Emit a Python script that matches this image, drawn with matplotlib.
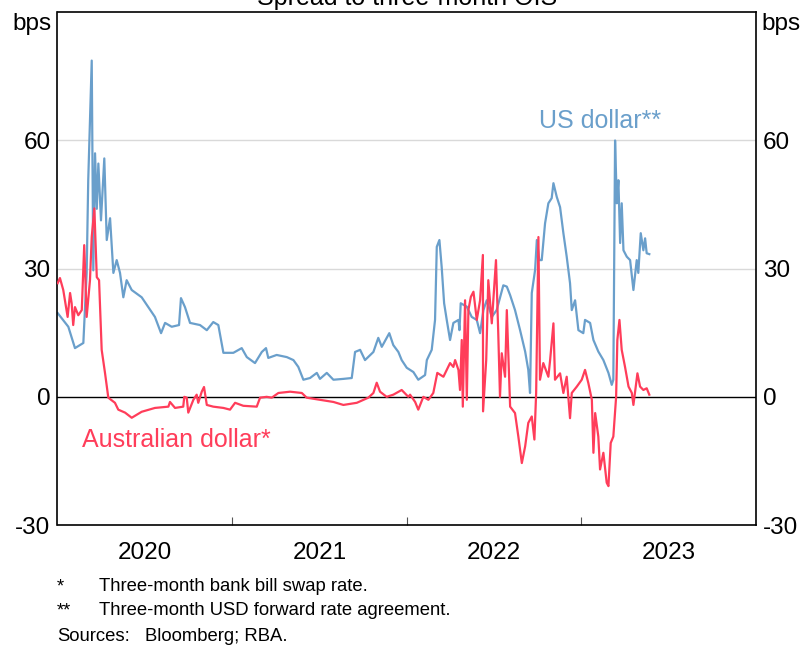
import numpy as np
import matplotlib
matplotlib.use("Agg")
from matplotlib import pyplot as plt

plt.rcParams['font.family'] = ['Liberation Sans', 'DejaVu Sans']

# time in decimal years, values in bps
us_t = [2020.001, 2020.062, 2020.100, 2020.148, 2020.167, 2020.176, 2020.196, 2020.205,
        2020.215, 2020.225, 2020.234, 2020.249, 2020.268, 2020.282, 2020.301, 2020.320,
        2020.339, 2020.358, 2020.377, 2020.396, 2020.425, 2020.482, 2020.520, 2020.558,
        2020.593, 2020.616, 2020.654, 2020.696, 2020.707, 2020.730, 2020.759, 2020.816,
        2020.855, 2020.892, 2020.921, 2020.950, 2021.007, 2021.055, 2021.084, 2021.131,
        2021.170, 2021.194, 2021.207, 2021.255, 2021.313, 2021.351, 2021.379, 2021.408,
        2021.446, 2021.485, 2021.503, 2021.542, 2021.580, 2021.637, 2021.685, 2021.704,
        2021.733, 2021.761, 2021.809, 2021.837, 2021.857, 2021.900, 2021.923, 2021.952,
        2021.971, 2022.000, 2022.038, 2022.066, 2022.105, 2022.115, 2022.143, 2022.162,
        2022.172, 2022.187, 2022.200, 2022.214, 2022.229, 2022.248, 2022.267, 2022.296,
        2022.302, 2022.309, 2022.344, 2022.372, 2022.401, 2022.420, 2022.439, 2022.458,
        2022.487, 2022.515, 2022.553, 2022.573, 2022.592, 2022.620, 2022.649, 2022.678,
        2022.696, 2022.706, 2022.716, 2022.735, 2022.745, 2022.759, 2022.773, 2022.792,
        2022.811, 2022.830, 2022.840, 2022.859, 2022.878, 2022.897, 2022.916, 2022.935,
        2022.945, 2022.964, 2022.983, 2023.011, 2023.021, 2023.050, 2023.069, 2023.097,
        2023.126, 2023.155, 2023.174, 2023.183, 2023.193, 2023.203, 2023.212, 2023.222,
        2023.231, 2023.241, 2023.260, 2023.279, 2023.298, 2023.317, 2023.326, 2023.340,
        2023.355, 2023.365, 2023.374, 2023.389]
us_v = [19.6, 16.4, 11.4, 12.6, 29.0, 50.7, 78.7, 29.6,
        57.0, 44.0, 54.6, 41.3, 55.8, 36.7, 41.8, 29.0,
        32.0, 29.0, 23.3, 27.3, 25.0, 23.3, 21.0, 18.7,
        14.9, 17.3, 16.4, 16.8, 23.1, 21.0, 17.3, 16.8,
        15.6, 17.5, 16.8, 10.3, 10.3, 11.4, 9.3, 7.9,
        10.5, 11.4, 9.1, 9.8, 9.3, 8.6, 7.0, 4.0,
        4.4, 5.6, 4.2, 5.6, 4.0, 4.2, 4.4, 10.5,
        11.0, 8.6, 10.5, 13.8, 11.7, 14.9, 12.1, 10.5,
        8.6, 6.8, 5.8, 4.0, 5.1, 8.6, 11.0, 18.0,
        35.1, 36.7, 30.4, 21.9, 18.0, 13.3, 17.3, 18.0,
        15.6, 21.9, 21.1, 18.7, 18.0, 14.9, 20.3, 22.6,
        18.7, 20.3, 26.1, 25.8, 23.8, 20.3, 15.6, 10.6,
        6.3, 0.9, 24.3, 29.7, 36.7, 32.0, 32.0, 40.6,
        45.3, 46.5, 50.0, 46.8, 44.4, 38.3, 32.8, 26.6,
        20.3, 22.6, 15.6, 14.9, 18.0, 17.3, 13.3, 10.6,
        8.6, 5.6, 2.8, 4.0, 60.0, 45.3, 50.7, 36.0,
        45.3, 34.3, 32.8, 32.0, 25.0, 32.0, 29.0, 38.3,
        34.3, 37.1, 33.6, 33.4]

aud_t = [2020.001, 2020.014, 2020.033, 2020.058, 2020.072, 2020.081, 2020.090, 2020.100,
         2020.119, 2020.139, 2020.153, 2020.167, 2020.186, 2020.196, 2020.211, 2020.225,
         2020.238, 2020.253, 2020.272, 2020.291, 2020.329, 2020.348, 2020.387, 2020.425,
         2020.482, 2020.558, 2020.635, 2020.644, 2020.673, 2020.720, 2020.726, 2020.740,
         2020.749, 2020.778, 2020.797, 2020.806, 2020.826, 2020.839, 2020.855, 2020.892,
         2020.950, 2020.988, 2021.017, 2021.064, 2021.141, 2021.160, 2021.198, 2021.227,
         2021.265, 2021.332, 2021.399, 2021.427, 2021.503, 2021.580, 2021.637, 2021.714,
         2021.780, 2021.809, 2021.828, 2021.847, 2021.885, 2021.923, 2021.971, 2022.009,
         2022.019, 2022.048, 2022.066, 2022.095, 2022.124, 2022.152, 2022.175, 2022.210,
         2022.248, 2022.267, 2022.277, 2022.296, 2022.305, 2022.315, 2022.321, 2022.334,
         2022.344, 2022.353, 2022.367, 2022.382, 2022.401, 2022.420, 2022.436, 2022.437,
         2022.455, 2022.467, 2022.487, 2022.511, 2022.524, 2022.534, 2022.544, 2022.563,
         2022.573, 2022.592, 2022.620, 2022.639, 2022.659, 2022.678, 2022.696, 2022.716,
         2022.731, 2022.741, 2022.754, 2022.763, 2022.782, 2022.811, 2022.821, 2022.840,
         2022.849, 2022.878, 2022.897, 2022.916, 2022.935, 2022.945, 2022.974, 2023.002,
         2023.021, 2023.040, 2023.060, 2023.069, 2023.079, 2023.097, 2023.107, 2023.126,
         2023.145, 2023.155, 2023.168, 2023.183, 2023.199, 2023.206, 2023.218, 2023.231,
         2023.250, 2023.270, 2023.289, 2023.298, 2023.321, 2023.336, 2023.355, 2023.374,
         2023.389]
aud_v = [26.6, 27.8, 25.0, 18.7, 24.3, 21.9, 16.8, 21.0,
         19.1, 20.3, 35.5, 18.7, 27.3, 37.4, 44.1, 28.0,
         27.3, 11.0, 5.6, -0.2, -1.4, -3.0, -3.7, -4.9,
         -3.5, -2.6, -2.3, -1.2, -2.6, -2.3, 0.0, -0.2,
         -3.7, -0.7, 0.5, -1.4, 1.2, 2.3, -1.9, -2.3,
         -2.6, -3.0, -1.4, -2.1, -2.3, -0.2, 0.0, -0.2,
         0.9, 1.2, 0.9, -0.2, -0.7, -1.2, -1.9, -1.4,
         -0.2, 0.9, 3.3, 1.2, 0.0, 0.5, 1.6, 0.0,
         0.5, -1.2, -3.0, 0.0, -0.7, 0.9, 5.6, 4.7,
         7.9, 7.0, 8.6, 6.3, 1.6, 13.3, -2.3, 22.6,
         -0.7, 20.3, 23.4, 24.6, 18.0, 22.6, 33.2, -3.4,
         8.6, 27.3, 17.2, 32.0, 14.9, 0.0, 10.2, 4.7,
         20.3, -2.3, -3.8, -9.3, -15.5, -11.6, -6.1, -4.6,
         -10.0, 0.9, 37.4, 4.0, 7.9, 4.7, 8.6, 17.2,
         4.0, 5.5, 0.9, 4.7, -5.0, 0.9, 2.4, 4.0,
         6.3, 3.2, -0.7, -13.1, -3.8, -9.3, -17.0, -13.1,
         -20.1, -20.9, -10.8, -9.3, 0.0, 13.3, 18.0, 11.0,
         7.0, 2.4, 0.9, -1.9, 5.5, 2.4, 1.6, 2.0,
         0.5]

years = [2020, 2021, 2022, 2023]
yticks = [-30, 0, 30, 60]

blue = '#6a9fcb'
red = '#ff3d5a'

fig = plt.figure(figsize=(8.04, 6.45), dpi=100)
ax = fig.add_axes([57.5/804, 1-525/645, (756-57.5)/804, (525-12.3)/645])

ax.set_xlim(2020, 2024)
ax.set_ylim(-30, 90)

for g in [30, 60]:
    ax.axhline(g, color='#d9d9d9', lw=1.0, zorder=0)
ax.axhline(0, color='black', lw=1.0, zorder=1)

ax.plot(us_t, us_v, color=blue, lw=1.6, zorder=2)
ax.plot(aud_t, aud_v, color=red, lw=1.6, zorder=3)

ax.set_yticks(yticks)
ax.set_yticklabels([str(v) for v in yticks])
ax.tick_params(axis='y', length=0, labelsize=17.5, pad=5,
               left=True, right=True, labelleft=True, labelright=True)

ax.set_xticks(years[1:])
ax.set_xticklabels([])
ax.set_xticks([y + 0.5 for y in years], minor=True)
ax.set_xticklabels([str(y) for y in years], minor=True)
ax.tick_params(axis='x', which='major', direction='in', length=6, width=0.8, color='#555555')
ax.tick_params(axis='x', which='minor', length=0, labelsize=17.5, pad=12)

for s in ax.spines.values():
    s.set_linewidth(1.2)

ax.text(-0.008, 0.977, 'bps', transform=ax.transAxes, ha='right', va='center', fontsize=17.5)
ax.text(1.008, 0.977, 'bps', transform=ax.transAxes, ha='left', va='center', fontsize=17.5)

ax.text(2023.107, 64.6, 'US dollar**', color=blue, ha='center', va='center', fontsize=18)
ax.text(2020.14, -10, 'Australian dollar*', color=red, ha='left', va='center', fontsize=18)

fig.text(407/804, 1-4.5/645, 'Spread to three-month OIS', ha='center', va='baseline', fontsize=18)

fs = 13.3
fig.text(57/804, 1-591/645, '*', ha='left', va='baseline', fontsize=fs)
fig.text(99/804, 1-591/645, 'Three-month bank bill swap rate.', ha='left', va='baseline', fontsize=fs)
fig.text(57/804, 1-615/645, '**', ha='left', va='baseline', fontsize=fs)
fig.text(99/804, 1-615/645, 'Three-month USD forward rate agreement.', ha='left', va='baseline', fontsize=fs)
fig.text(57/804, 1-641/645, 'Sources:', ha='left', va='baseline', fontsize=fs)
fig.text(145/804, 1-641/645, 'Bloomberg; RBA.', ha='left', va='baseline', fontsize=fs)

fig.savefig('out.png', dpi=100)
